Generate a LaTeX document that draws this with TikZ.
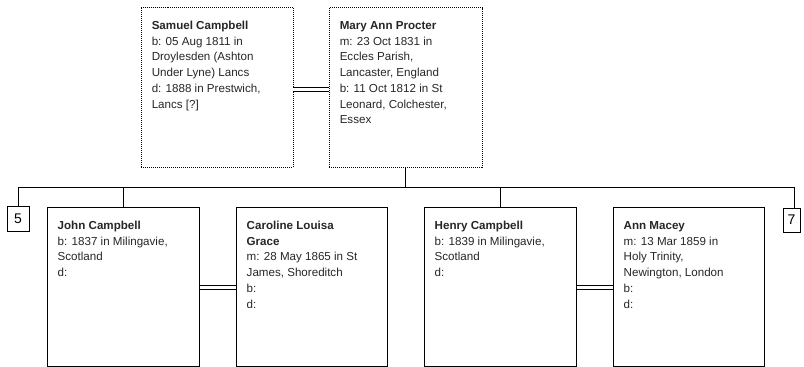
\documentclass[tikz,border=0pt]{standalone}
\usepackage{fontspec}
\setmainfont{Liberation Sans}
\begin{document}
\begin{tikzpicture}[x=1pt,y=-1pt,
  solidbox/.style={draw=black, line width=1pt, inner sep=0pt, minimum width=152pt, minimum height=159pt},
  dotbox/.style={solidbox, dash pattern=on 1pt off 1pt, line width=0.9pt},
  info/.style={anchor=base west, inner sep=0pt, font=\fontsize{11.6}{15.7}\selectfont, text=black!85},
  refbox/.style={draw=black, line width=1pt, inner sep=0pt, font=\fontsize{14}{16}\selectfont},
  link/.style={line width=1pt},
  wed/.style={double, double distance=3pt, line width=1pt}]
\useasboundingbox (0,0) rectangle (804,367);

% parents
\node[dotbox, minimum width=152pt, minimum height=159.5pt] (samuel) at (217,87.25) {};
\node[dotbox, minimum width=153pt, minimum height=159.5pt] (mary) at (405.5,87.25) {};

\node[info] (samuelT) at ([shift={(11,22.5)}]samuel.north west) {\vtop{%
  \hbox{\textbf{Samuel Campbell}}\hbox{b: 05 Aug 1811 in}\hbox{Droylesden (Ashton}%
  \hbox{Under Lyne) Lancs}\hbox{d: 1888 in Prestwich,}\hbox{Lancs [?]}}};
\node[info] (maryT) at ([shift={(11,22.5)}]mary.north west) {\vtop{%
  \hbox{\textbf{Mary Ann Procter}}\hbox{m: 23 Oct 1831 in}\hbox{Eccles Parish,}%
  \hbox{Lancaster, England}\hbox{b: 11 Oct 1812 in St}\hbox{Leonard, Colchester,}\hbox{Essex}}};

% children and spouses
\node[solidbox, minimum width=152pt] (john) at (123,286.5) {};
\node[solidbox, minimum width=151pt] (caroline) at (311.5,286.5) {};
\node[solidbox, minimum width=152pt] (henry) at (500,286.5) {};
\node[solidbox, minimum width=151pt] (ann) at (688.5,286.5) {};

\node[info] (johnT) at ([shift={(11,23)}]john.north west) {\vtop{%
  \hbox{\textbf{John Campbell}}\hbox{b: 1837 in Milingavie,}\hbox{Scotland}\hbox{d:}}};
\node[info] (carolineT) at ([shift={(11,23)}]caroline.north west) {\vtop{%
  \hbox{\textbf{Caroline Louisa}}\hbox{\textbf{Grace}}\hbox{m: 28 May 1865 in St}%
  \hbox{James, Shoreditch}\hbox{b:}\hbox{d:}}};
\node[info] (henryT) at ([shift={(11,23)}]henry.north west) {\vtop{%
  \hbox{\textbf{Henry Campbell}}\hbox{b: 1839 in Milingavie,}\hbox{Scotland}\hbox{d:}}};
\node[info] (annT) at ([shift={(11,23)}]ann.north west) {\vtop{%
  \hbox{\textbf{Ann Macey}}\hbox{m: 13 Mar 1859 in}\hbox{Holy Trinity,}%
  \hbox{Newington, London}\hbox{b:}\hbox{d:}}};

% reference boxes
\node[refbox, minimum width=22pt, minimum height=24.5pt] (ref5) at (18,218.75) {5};
\node[refbox, minimum width=17pt, minimum height=24pt] (ref7) at (791.5,220) {7};

% marriages
\draw[wed] (samuel.east |- 0,89) -- (mary.west |- 0,89);
\draw[wed] (john.east |- 0,287.5) -- (caroline.west |- 0,287.5);
\draw[wed] (henry.east |- 0,287.5) -- (ann.west |- 0,287.5);

% family bus
\coordinate (bus) at (0,187);
\coordinate (ref7top) at ([xshift=2.5pt]ref7.north);
\draw[link] (ref5.north) |- (ref7top |- bus) -- (ref7top);
\draw[link] (mary.south) -- (mary.south |- bus);
\draw[link] (john.north) -- (john.north |- bus);
\draw[link] (henry.north) -- (henry.north |- bus);
\end{tikzpicture}
\end{document}
